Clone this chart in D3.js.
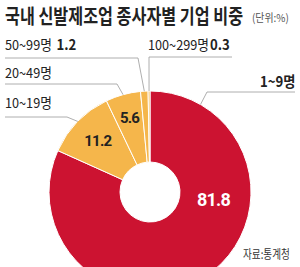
<!DOCTYPE html>
<html>
<head>
<meta charset="utf-8">
<script src="https://cdn.jsdelivr.net/npm/d3@7"></script>
<style>
  body { margin: 0; background: #fff; }
  svg { display: block; }
  text { font-family: "Noto Sans CJK KR", "Noto Sans", sans-serif; }
</style>
</head>
<body>
<div id="chart"></div>
<script>
//Data
const categories = ["1~9명", "10~19명", "20~49명", "50~99명", "100~299명"];
const values = [81.8, 11.2, 5.6, 1.2, 0.3];
const colors = ["#cc1331", "#f5b64b", "#f5b64b", "#f5b64b", "#f5b64b"];

const title = "국내 신발제조업 종사자별 기업 비중";
const unit = "(단위:%)";
const source = "자료:통계청";

//Layout
const width = 300, height = 267;
const cx = 150, cy = 192;
const outerR = 101, innerR = 30;

//Leader lines & outside labels: text x/y, underline y, line start x, elbow x, angle override (deg)
const outside = [
  {tx: 260, ty: 87, lineY: 92, x0: 295, elbowX: 207, angle: 30, showVal: false, bold: true},
  {tx: 5, ty: 108, lineY: 117, x0: 5, elbowX: 67, angle: null, showVal: false},
  {tx: 5, ty: 78, lineY: 84, x0: 5, elbowX: 117, angle: null, showVal: false},
  {tx: 5, ty: 50, lineY: 58, x0: 5, elbowX: 138, angle: null, showVal: true},
  {tx: 148, ty: 50, lineY: 57, x0: 232, elbowX: 149, angle: null, showVal: true}
];
//Inside value labels: radius, angle override
const inside = [
  {r: 64, angle: 97, fill: "#fff", size: 18},
  {r: 73, angle: null, fill: "#222", size: 15},
  {r: 77, angle: null, fill: "#222", size: 15},
  null, null
];

const svg = d3.select("#chart").append("svg")
    .attr("width", width)
    .attr("height", height);

//condensed text: drawn at (x,y) and squeezed horizontally by sx
function squeezed(x, y, sx) {
  return svg.append("g")
      .attr("transform", `translate(${x},${y}) scale(${sx},1)`)
    .append("text");
}

//Title
squeezed(5, 24, 0.81)
    .style("font-size", "20px").style("font-weight", 700).style("fill", "#222")
    .text(title);
squeezed(252, 22, 0.9)
    .style("font-size", "11px").style("fill", "#555")
    .text(unit);

//Pie
const pieData = d3.pie().sort(null).value(d => d)
    .startAngle(0).endAngle(2 * Math.PI)(values);

const arc = d3.arc().innerRadius(innerR).outerRadius(outerR);

const g = svg.append("g").attr("transform", `translate(${cx},${cy})`);

g.selectAll("path")
  .data(pieData)
  .enter().append("path")
    .attr("d", arc)
    .style("fill", (d, i) => colors[i])
    .style("stroke", "#fff")
    .style("stroke-width", 1);

//point on a circle of radius r at angle a (radians, from 12 o'clock clockwise)
const polar = (r, a) => [cx + r * Math.sin(a), cy - r * Math.cos(a)];
const rad = deg => deg * Math.PI / 180;

//Leader lines and outside labels
pieData.forEach((d, i) => {
  const o = outside[i];
  const a = o.angle !== null ? rad(o.angle) : (d.startAngle + d.endAngle) / 2;
  const end = polar(outerR, a);
  svg.append("path")
      .attr("d", d3.line()([[o.x0, o.lineY], [o.elbowX, o.lineY], end]))
      .style("fill", "none")
      .style("stroke", "#999")
      .style("stroke-width", 0.8);

  const t = squeezed(o.tx, o.ty, o.bold ? 0.88 : 0.94)
      .style("fill", "#222");
  t.append("tspan")
      .style("font-weight", o.bold ? 700 : 400)
      .style("font-size", o.bold ? "15px" : "13.5px")
      .text(categories[i]);
  if (o.showVal) {
    t.append("tspan")
        .attr("dx", i === 3 ? 5 : 1)
        .style("font-weight", 700)
        .style("font-size", "14px")
        .text(d3.format(".1f")(values[i]));
  }
});

//Inside value labels
pieData.forEach((d, i) => {
  const l = inside[i];
  if (!l) return;
  const a = l.angle !== null ? rad(l.angle) : (d.startAngle + d.endAngle) / 2;
  const p = polar(l.r, a);
  svg.append("text")
      .attr("x", p[0]).attr("y", p[1])
      .attr("text-anchor", "middle")
      .attr("dy", "0.36em")
      .style("font-family", "Roboto, sans-serif")
      .style("font-weight", 700)
      .style("font-size", l.size + "px")
      .style("letter-spacing", "-0.8px")
      .style("fill", l.fill)
      .text(d3.format(".1f")(values[i]));
});

//Source
squeezed(243, 259, 0.8)
    .style("font-size", "12px").style("fill", "#333")
    .text(source);
</script>
</body>
</html>
